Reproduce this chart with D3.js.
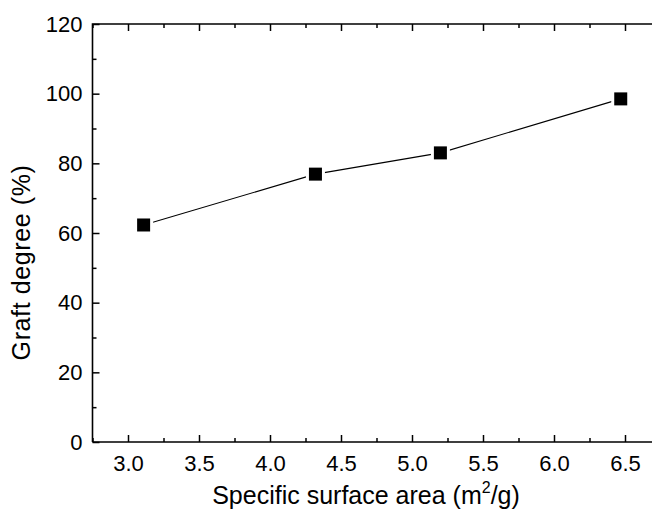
<!DOCTYPE html>
<html><head><meta charset="utf-8">
<script src="https://cdn.jsdelivr.net/npm/d3@7"></script>
<style>html,body{margin:0;background:#fff;overflow:hidden}svg{display:block}text{font-family:"Liberation Sans",Arial,sans-serif;fill:#000}</style>
</head><body><svg id="c" width="652" height="510"></svg>
<script>
const xValues = [3.11, 4.32, 5.20, 6.47];
const yValues = [62.3, 76.9, 83.0, 98.5];
const xTicks = [3.0, 3.5, 4.0, 4.5, 5.0, 5.5, 6.0, 6.5];
const yTicks = [0, 20, 40, 60, 80, 100, 120];
const xLabel = "Specific surface area (m";
const yLabel = "Graft degree (%)";

const svg = d3.select("#c");
const L = 92.5, R = 660.5, T = 24, B = 442;
const x = d3.scaleLinear().domain([2.75, 6.75]).range([L, R]);
const y = d3.scaleLinear().domain([0, 120]).range([B, T]);

const g = svg.append("g");
g.append("path").attr("d", `M${L},${B}V${T}H${R}M${L},${B}H${R}`)
  .attr("fill", "none").attr("stroke", "#000").attr("stroke-width", 1.6);

const xMinor = d3.range(2.75, 6.8, 0.25).filter(v => Math.abs(v*2 - Math.round(v*2)) > 1e-6);
const yMinor = d3.range(10, 120, 20);

const xb = g.append("g").attr("transform", `translate(0,${B})`)
  .call(d3.axisBottom(x).tickValues(xTicks).tickFormat(d3.format(".1f")).tickSize(-7));
g.append("g").attr("transform", `translate(0,${B})`)
  .call(d3.axisBottom(x).tickValues(xMinor).tickFormat("").tickSize(-4));
g.append("g").attr("transform", `translate(0,${T})`)
  .call(d3.axisTop(x).tickValues(xTicks).tickFormat("").tickSize(-7));
g.append("g").attr("transform", `translate(0,${T})`)
  .call(d3.axisTop(x).tickValues(xMinor).tickFormat("").tickSize(-4));
const yl = g.append("g").attr("transform", `translate(${L},0)`)
  .call(d3.axisLeft(y).tickValues(yTicks).tickSize(-7).tickPadding(10));
g.append("g").attr("transform", `translate(${L},0)`)
  .call(d3.axisLeft(y).tickValues(yMinor).tickFormat("").tickSize(-4));

g.selectAll(".domain").remove();
g.selectAll(".tick line").attr("stroke", "#000").attr("stroke-width", 1.5);
g.selectAll(".tick text").attr("font-size", 22).attr("font-family", '"Liberation Sans",Arial,sans-serif');
xb.selectAll(".tick text").attr("dy", null).attr("y", 29);

const pts = xValues.map((v, i) => [v, yValues[i]]);
g.append("path").datum(pts)
  .attr("d", d3.line().x(d => x(d[0])).y(d => y(d[1])))
  .attr("fill", "none").attr("stroke", "#000").attr("stroke-width", 1.1);
const s = 13;
g.selectAll(".gap").data(pts).enter().append("rect")
  .attr("x", d => x(d[0]) - s/2 - 3).attr("y", d => y(d[1]) - s/2 - 3)
  .attr("width", s + 6).attr("height", s + 6).attr("fill", "#fff");
g.selectAll(".mk").data(pts).enter().append("rect")
  .attr("x", d => x(d[0]) - s/2).attr("y", d => y(d[1]) - s/2)
  .attr("width", s).attr("height", s).attr("fill", "#000");

const xt2 = svg.append("text").attr("x", 366).attr("y", 504).attr("text-anchor", "middle").attr("font-size", 25);
xt2.append("tspan").text(xLabel);
xt2.append("tspan").attr("font-size", 16).attr("dy", -11).text("2");
xt2.append("tspan").attr("dy", 11).text("/g)");
svg.append("text").attr("transform", `translate(30,262.5) rotate(-90)`)
  .attr("text-anchor", "middle").attr("font-size", 25).attr("letter-spacing", 0.6).text(yLabel);
</script></body></html>
